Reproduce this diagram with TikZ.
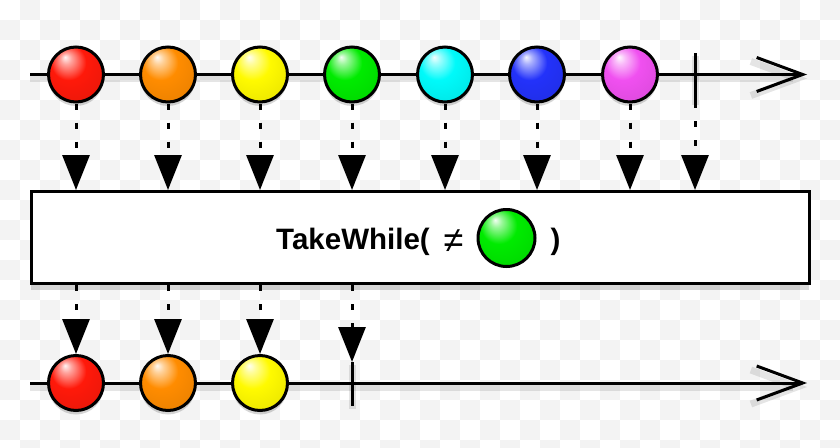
\documentclass[tikz,border=0pt]{standalone}
\usepackage{fontspec}
\setmainfont{Liberation Sans}
\usetikzlibrary{arrows.meta,shapes.geometric}
\definecolor{checkgray}{RGB}{243,243,243}
\definecolor{mred}{RGB}{255,25,10}
\definecolor{morange}{RGB}{255,140,0}
\definecolor{myellow}{RGB}{255,250,0}
\definecolor{mgreen}{RGB}{0,235,0}
\definecolor{mcyan}{RGB}{0,250,250}
\definecolor{mblue}{RGB}{35,50,250}
\definecolor{mmagenta}{RGB}{240,80,240}
\colorlet{mballcol}{red}
\pgfdeclareradialshading[mballcol]{marble}{\pgfpoint{-10bp}{16bp}}{color(0bp)=(mballcol!5!white); color(5bp)=(mballcol!40!white); color(16bp)=(mballcol); color(34bp)=(mballcol!92!black); color(50bp)=(mballcol!70!black)}
\tikzset{
  marble/.style={circle, draw=black, line width=3pt, minimum size=55pt, inner sep=0pt,
    /utils/exec={\colorlet{mballcol}{#1}}, shade, shading=marble,
    preaction={fill=black, fill opacity=.16, draw=none, transform canvas={yshift=-4pt}}},
  condball/.style={circle, draw=black, line width=3pt, minimum size=57pt, inner sep=0pt,
    /utils/exec={\colorlet{mballcol}{#1}}, shade, shading=marble},
  tline/.style={line width=3pt, -{Straight Barb[length=46pt,width=34pt]},
    preaction={draw=black, draw opacity=.10, line width=7pt, transform canvas={yshift=-4pt}}},
  tickmark/.style={line width=3pt,
    preaction={draw=black, draw opacity=.10, line width=7pt, transform canvas={yshift=-3pt}}},
  flow/.style={line width=3pt, dash pattern=on 6pt off 13pt, -{Triangle[length=35pt,width=27pt]}},
  opbox/.style={draw=black, fill=white, line width=3pt, minimum width=778pt, minimum height=92pt, inner sep=0pt,
    preaction={fill=black, fill opacity=.15, draw=none, transform canvas={yshift=-6pt}}},
  optext/.style={anchor=base west, inner sep=0pt, font=\fontsize{29.5}{32}\selectfont\bfseries},
  opsym/.style={anchor=base, inner sep=0pt, font=\fontsize{36}{38}\selectfont},
}
\begin{document}
\begin{tikzpicture}[x=1pt,y=-1pt]
\useasboundingbox (0,0) rectangle (840,447);
\clip (0,0) rectangle (840,447);
\fill[white] (0,0) rectangle (840,447);
\foreach \i in {0,...,41}{
  \foreach \j in {0,...,22}{
    \pgfmathtruncatemacro\odd{mod(\i+\j,2)}
    \ifnum\odd=1 \fill[checkgray] (\i*20,\j*20) rectangle ++(20,20); \fi
  }
}
% timelines
\coordinate (t1s) at (30,74.5);
\coordinate (t1e) at (807,74.5);
\coordinate (t2s) at (30,383);
\coordinate (t2e) at (807,383);
\draw[tline] (t1s) -- (t1e);
\draw[tline] (t2s) -- (t2e);
% ticks
\coordinate (k1a) at (695,53);
\coordinate (k1b) at (695,102);
\coordinate (k2a) at (352,362);
\coordinate (k2b) at (352,406);
\draw[tickmark] (k1a) -- (k1b);
\draw[tickmark] (k2a) -- (k2b);
% top marbles
\node[marble=mred] (a1) at (76,74.5) {};
\node[marble=morange] (a2) at (168,74.5) {};
\node[marble=myellow] (a3) at (260,74.5) {};
\node[marble=mgreen] (a4) at (352,74.5) {};
\node[marble=mcyan] (a5) at (445,74.5) {};
\node[marble=mblue] (a6) at (537,74.5) {};
\node[marble=mmagenta] (a7) at (630,74.5) {};
% bottom marbles
\node[marble=mred] (b1) at (76,383) {};
\node[marble=morange] (b2) at (168,383) {};
\node[marble=myellow] (b3) at (260,383) {};
% operator box
\node[opbox] (box) at (420,237.5) {};
\node[optext] (lbl) at (276,249) {TakeWhile(};
\node[opsym] (ne) at (453.5,252) {≠};
\node[condball=mgreen] (cond) at (506.5,238) {};
\node[optext] (rp) at (550.5,249) {)};
% flows
\foreach \n in {a1,a2,a3,a4,a5,a6,a7}{
  \draw[flow] (\n.south) -- (\n.south |- box.north);
}
\draw[flow] (k1b) -- (k1b |- box.north);
\foreach \n in {b1,b2,b3}{
  \draw[flow] (\n.north |- box.south) -- (\n.north);
}
\draw[flow] (k2a |- box.south) -- (k2a);
\end{tikzpicture}
\end{document}
